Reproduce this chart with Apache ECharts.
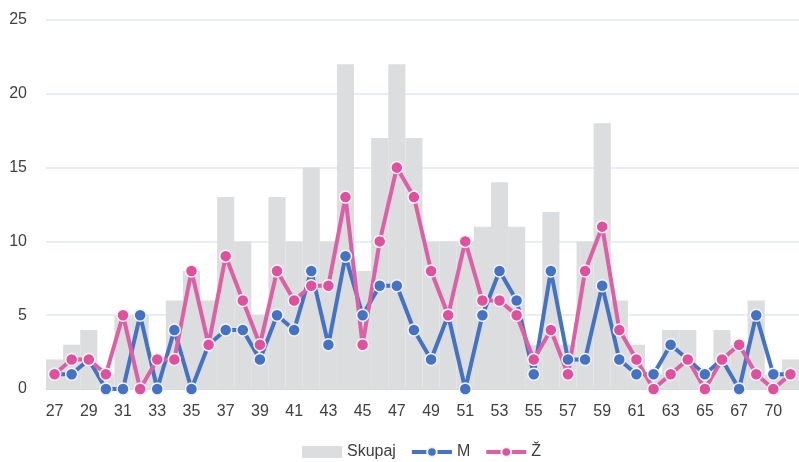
<!DOCTYPE html>
<html>
<head>
<meta charset="utf-8">
<script src="https://cdn.jsdelivr.net/npm/echarts@6/dist/echarts.min.js"></script>
<style>
html, body { margin: 0; padding: 0; background: #fff; }
#chart { width: 799px; height: 462px; }
</style>
</head>
<body>
<div id="chart"></div>
<script>
// age categories (one age between 67 and 70 is listed only once)
var ages = ['27','28','29','30','31','32','33','34','35','36','37','38','39','40','41','42','43','44','45','46','47','48','49','50','51','52','53','54','55','56','57','58','59','60','61','62','63','64','65','66','67','68','70','71'];
var skupaj = [2,3,4,1,5,5,2,6,8,6,13,10,5,13,10,15,10,22,8,17,22,17,10,10,10,11,14,11,3,12,3,10,18,6,3,1,4,4,1,4,3,6,1,2];
var moski  = [1,1,2,0,0,5,0,4,0,3,4,4,2,5,4,8,3,9,5,7,7,4,2,5,0,5,8,6,1,8,2,2,7,2,1,1,3,2,1,2,0,5,1,1];
var zenske = [1,2,2,1,5,0,2,2,8,3,9,6,3,8,6,7,7,13,3,10,15,13,8,5,10,6,6,5,2,4,1,8,11,4,2,0,1,2,0,2,3,1,0,1];

var blue = '#4472c4';
var pink = '#e0509f';
var font = '"Liberation Sans", "DejaVu Sans", sans-serif';

var chart = echarts.init(document.getElementById('chart'));

function lineSeries(name, data, lineColor, dotColor) {
    return {
        name: name,
        type: 'line',
        data: data,
        symbol: 'circle',
        symbolSize: 12,
        showAllSymbol: true,
        z: 3,
        lineStyle: { color: lineColor, width: 4 },
        itemStyle: { color: dotColor, borderColor: '#f4f4f4', borderWidth: 1.5 },
        emphasis: { disabled: true }
    };
}

chart.setOption({
    animation: false,
    textStyle: { fontFamily: font },
    grid: { left: 46, top: 20, width: 761, bottom: 73 },
    legend: {
        left: 297,
        bottom: -3,
        itemWidth: 40,
        itemHeight: 12,
        itemGap: 14,
        textStyle: { fontSize: 16, color: '#404040', fontFamily: font },
        data: [
            { name: 'Skupaj', icon: 'rect', itemStyle: { color: '#dcdddf' } },
            { name: 'M', lineStyle: { width: 4 } },
            { name: 'Ž', lineStyle: { width: 4 } }
        ]
    },
    xAxis: {
        type: 'category',
        data: ages,
        boundaryGap: true,
        axisTick: { show: false },
        axisLine: { lineStyle: { color: '#d9d9d9' } },
        axisLabel: { interval: 1, color: '#404040', fontSize: 16, margin: 15 }
    },
    yAxis: {
        type: 'value',
        min: 0,
        max: 25,
        interval: 5,
        axisLabel: { color: '#404040', fontSize: 16, margin: 19 },
        splitLine: { lineStyle: { color: '#e3e7ee', width: 1.5 } }
    },
    series: [
        {
            name: 'Skupaj',
            type: 'bar',
            data: skupaj,
            barCategoryGap: '0%',
            itemStyle: { color: '#dcdddf' },
            emphasis: { disabled: true },
            z: 1
        },
        lineSeries('M', moski, blue, blue),
        lineSeries('Ž', zenske, '#dd5fa6', pink)
    ]
});
</script>
</body>
</html>
